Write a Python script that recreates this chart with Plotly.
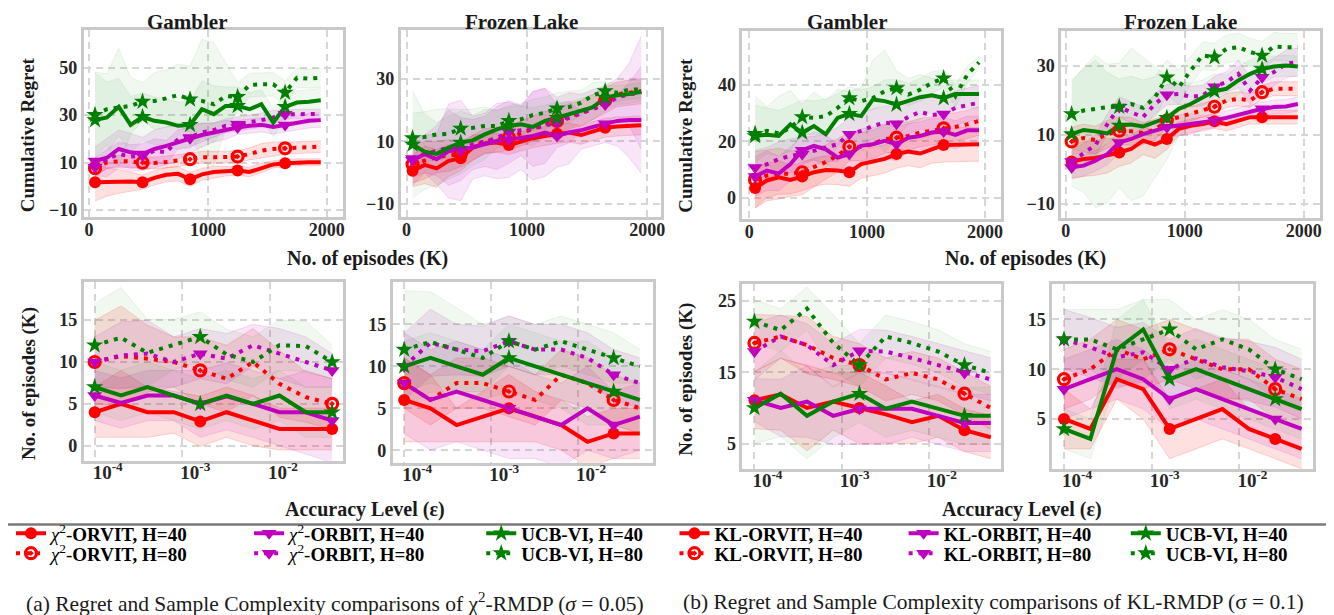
import plotly.graph_objects as go

W, H = 1334, 615
FONT = "Liberation Serif"

# ---------------- data ----------------
episodes = [50, 150, 250, 350, 450, 550, 650, 750, 850, 950,
            1050, 1150, 1250, 1350, 1450, 1550, 1650, 1750, 1850, 1950]
accuracy = [1.0e-4, 2.0e-4, 4.0e-4, 8.0e-4, 1.6e-3, 3.2e-3, 6.4e-3, 1.28e-2, 2.56e-2, 5.12e-2]

# (a) chi^2, Gambler, regret
chi_gam_reg_orvit40 = [1.7, 1.8, 2.0, 2.0, 1.7, 3.5, 4.8, 5.2, 2.9, 5.0, 6.0, 6.3, 6.6, 6.0, 7.8, 9.2, 9.7, 10.1, 10.1, 10.1]
chi_gam_reg_orvit80 = [7.6, 10.0, 10.5, 10.5, 9.9, 9.8, 10.2, 10.8, 11.4, 12.2, 12.2, 12.3, 12.5, 13.6, 15.0, 15.7, 16.0, 16.3, 16.5, 16.7]
chi_gam_reg_orbit40 = [10.6, 12.0, 15.7, 14.3, 13.6, 15.7, 17.0, 18.5, 20.2, 21.6, 22.7, 23.8, 24.8, 25.5, 25.9, 25.0, 25.8, 26.9, 27.6, 27.9]
chi_gam_reg_orbit80 = [8.0, 11.5, 13.6, 12.5, 12.9, 15.0, 14.3, 19.9, 20.6, 22.7, 23.7, 25.5, 26.2, 26.9, 27.9, 29.0, 30.4, 30.4, 30.5, 30.5]
chi_gam_reg_ucb40 = [27.9, 29.0, 33.5, 25.9, 29.3, 27.6, 26.9, 25.5, 25.9, 32.5, 30.4, 33.9, 33.9, 32.5, 34.6, 26.9, 33.5, 35.3, 35.7, 36.3]
chi_gam_reg_ucb80 = [30.1, 32.5, 33.2, 33.9, 35.7, 36.0, 37.1, 38.5, 36.7, 36.0, 34.6, 38.1, 37.7, 42.7, 43.0, 43.0, 39.5, 45.8, 45.4, 45.8]
chi_gam_reg_orvit40_err = [8, 6, 5, 4, 3, 3, 3, 3, 3, 2.5, 2.5, 2, 2, 2, 2, 1.5, 1.5, 1.5, 1.5, 1.5]
chi_gam_reg_orvit80_err = [3, 2.5, 2.5, 2.5, 2.5, 2.5, 2.5, 2.5, 2.5, 2.5, 2.5, 2.5, 2.5, 2.5, 3, 3, 2.5, 2.5, 2.5, 2.5]
chi_gam_reg_orbit40_err = [6, 8, 8, 8, 7, 8, 8, 7, 6, 5, 4, 4, 3, 3, 3, 3, 3, 3, 3, 3]
chi_gam_reg_orbit80_err = [4, 4, 5, 5, 5, 5, 5, 4, 4, 4, 3, 3, 3, 3, 3, 3, 2, 2, 2, 2]
chi_gam_reg_ucb40_err = [20, 15, 12, 12, 10, 10, 10, 10, 10, 12, 12, 8, 8, 7, 6, 6, 5, 5, 5, 5]
chi_gam_reg_ucb80_err = [18, 15, 25, 12, 8, 12, 12, 13, 14, 26, 26, 14, 6, 5, 5, 5, 5, 4, 4, 4]

# (a) chi^2, Frozen Lake, regret
chi_fl_reg_orvit40 = [0.6, 2.5, 1.4, 3.8, 4.6, 8.0, 9.3, 9.6, 8.8, 10.0, 11.0, 11.7, 12.4, 12.8, 12.0, 13.3, 14.3, 14.7, 14.9, 15.1]
chi_fl_reg_orvit80 = [2.7, 4.0, 5.0, 5.5, 5.9, 8.0, 10.0, 10.5, 11.2, 12.5, 14.0, 15.5, 16.5, 18.0, 19.0, 21.0, 23.0, 25.0, 25.5, 26.0]
chi_fl_reg_orbit40 = [4.0, 5.9, 4.3, 6.9, 7.1, 8.0, 9.0, 10.1, 10.5, 11.0, 11.7, 12.8, 11.7, 12.8, 13.5, 14.6, 15.6, 16.5, 16.8, 16.8]
chi_fl_reg_orbit80 = [4.5, 6.0, 7.0, 8.0, 7.5, 9.0, 10.0, 11.0, 13.0, 13.5, 14.0, 15.0, 16.0, 17.5, 19.0, 20.5, 21.7, 24.0, 25.0, 25.5]
chi_fl_reg_ucb40 = [9.0, 6.7, 6.0, 8.0, 9.6, 10.3, 12.2, 13.8, 14.9, 15.4, 14.6, 16.5, 17.5, 18.6, 19.6, 20.9, 23.9, 24.7, 25.1, 25.8]
chi_fl_reg_ucb80 = [11.0, 11.4, 12.2, 12.4, 14.1, 14.3, 14.9, 14.9, 16.5, 17.0, 18.4, 19.1, 20.5, 20.9, 22.3, 24.7, 26.0, 25.5, 26.5, 26.5]
chi_fl_reg_orvit40_err = [5, 6, 6, 5, 4, 4, 3, 3, 3, 3, 3, 3, 3, 3, 3, 3, 3, 3, 3, 3]
chi_fl_reg_orvit80_err = [6, 6, 5, 5, 4, 4, 4, 4, 4, 4, 4, 4, 4, 4, 4, 4, 4, 4, 4, 4]
chi_fl_reg_orbit40_err = [8, 6, 8, 15, 16, 10, 10, 12, 12, 10, 14, 14, 10, 10, 6, 6, 6, 8, 12, 17]
chi_fl_reg_orbit80_err = [6, 6, 8, 12, 10, 8, 8, 10, 10, 8, 12, 12, 8, 8, 6, 6, 6, 6, 10, 18]
chi_fl_reg_ucb40_err = [17, 12, 10, 10, 10, 8, 8, 6, 6, 6, 6, 5, 5, 4, 4, 4, 4, 3, 3, 3]
chi_fl_reg_ucb80_err = [8, 8, 8, 8, 6, 6, 6, 5, 5, 5, 5, 5, 5, 5, 4, 4, 3, 3, 3, 3]

# (b) KL, Gambler, regret
kl_gam_reg_orvit40 = [3.5, 6.2, 7.3, 6.4, 7.6, 9.1, 9.9, 9.7, 9.1, 12.0, 12.9, 13.8, 15.5, 16.4, 15.7, 17.3, 18.7, 18.8, 19.0, 19.0]
kl_gam_reg_orvit80 = [6.4, 8.0, 8.6, 8.6, 9.1, 10.9, 12.7, 15.0, 18.1, 18.1, 19.0, 20.8, 21.3, 21.9, 23.1, 23.7, 24.6, 25.1, 26.0, 27.2]
kl_gam_reg_orbit40 = [7.6, 9.7, 8.6, 12.0, 16.9, 18.4, 17.2, 14.3, 15.5, 18.4, 19.0, 20.2, 19.0, 21.3, 21.9, 23.1, 23.5, 22.3, 23.9, 23.9]
kl_gam_reg_orbit80 = [10.8, 11.9, 13.7, 14.9, 15.5, 16.7, 17.8, 19.0, 22.5, 23.7, 25.4, 26.6, 26.2, 28.6, 30.4, 29.3, 29.7, 31.8, 32.8, 33.6]
kl_gam_reg_ucb40 = [21.9, 22.3, 21.9, 26.0, 23.1, 25.4, 22.5, 28.3, 29.7, 28.9, 34.8, 34.2, 33.0, 34.2, 35.6, 36.3, 35.3, 36.7, 36.7, 36.7]
kl_gam_reg_ucb80 = [22.7, 23.7, 22.9, 24.7, 28.6, 28.3, 28.9, 31.8, 35.3, 34.2, 35.3, 37.7, 38.8, 36.5, 38.2, 40.6, 42.3, 36.0, 43.5, 47.9]
kl_gam_reg_orvit40_err = [7, 6, 6, 5, 5, 5, 5, 5, 5, 5, 5, 5, 5, 5, 5, 5, 6, 6, 6, 6]
kl_gam_reg_orvit80_err = [10, 9, 9, 8, 8, 7, 6, 6, 5, 5, 5, 5, 5, 5, 5, 5, 5, 5, 5, 5]
kl_gam_reg_orbit40_err = [7, 7, 6, 6, 5, 5, 5, 5, 6, 6, 6, 6, 6, 5, 5, 5, 5, 5, 5, 5]
kl_gam_reg_orbit80_err = [6, 6, 6, 6, 6, 5, 5, 6, 6, 6, 6, 6, 6, 6, 6, 6, 6, 6, 6, 6]
kl_gam_reg_ucb40_err = [14, 10, 14, 12, 10, 12, 12, 10, 8, 10, 14, 18, 12, 8, 8, 6, 6, 5, 5, 5]
kl_gam_reg_ucb80_err = [10, 8, 8, 8, 6, 6, 6, 5, 4, 4, 4, 4, 3, 4, 4, 4, 3, 4, 3, 2]

# (b) KL, Frozen Lake, regret
kl_fl_reg_orvit40 = [2.3, 3.0, 3.3, 4.0, 4.9, 5.9, 8.3, 7.2, 8.8, 11.7, 12.6, 13.1, 13.9, 13.1, 14.1, 15.1, 15.1, 15.1, 15.1, 15.1]
kl_fl_reg_orvit80 = [8.1, 9.1, 8.5, 10.2, 11.2, 11.0, 10.5, 11.5, 14.1, 15.1, 16.0, 17.0, 18.1, 19.9, 20.4, 19.9, 22.3, 23.3, 23.3, 23.3]
kl_fl_reg_orbit40 = [0.6, 1.1, 2.5, 4.4, 7.8, 8.8, 10.2, 11.2, 12.2, 12.7, 13.1, 13.6, 14.1, 14.9, 15.8, 16.8, 17.5, 18.0, 18.2, 18.9]
kl_fl_reg_orbit80 = [2.3, 4.6, 7.0, 13.1, 18.0, 16.5, 15.1, 18.9, 21.6, 21.8, 21.0, 21.3, 23.9, 25.2, 27.6, 22.8, 26.6, 28.1, 30.5, 31.0]
kl_fl_reg_ucb40 = [10.2, 11.4, 11.0, 10.4, 12.7, 13.0, 12.4, 13.6, 14.9, 17.5, 18.9, 20.8, 22.6, 23.3, 25.7, 27.6, 29.0, 29.7, 30.0, 29.7]
kl_fl_reg_ucb80 = [16.0, 17.0, 17.5, 18.0, 18.1, 18.9, 17.8, 20.8, 26.6, 23.7, 28.6, 32.9, 32.4, 34.8, 35.3, 33.9, 32.9, 35.5, 35.3, 35.3]
kl_fl_reg_orvit40_err = [5, 5, 5, 5, 4, 4, 4, 4, 3, 2, 2, 2, 2, 2, 2, 2, 2, 2, 2, 2]
kl_fl_reg_orvit80_err = [4, 4, 4, 4, 4, 4, 3, 3, 2, 2, 2, 2, 2, 2, 2, 2, 2, 2, 2, 2]
kl_fl_reg_orbit40_err = [3, 3, 3, 3, 3, 3, 3, 3, 3, 3, 3, 2, 2, 2, 2, 2, 2, 2, 2, 2]
kl_fl_reg_orbit80_err = [3, 3, 3, 3, 3, 3, 3, 3, 3, 3, 3, 3, 3, 3, 4, 4, 4, 4, 4, 4]
kl_fl_reg_ucb40_err = [15, 18, 22, 20, 18, 22, 20, 16, 12, 8, 6, 5, 5, 4, 4, 4, 4, 3, 3, 3]
kl_fl_reg_ucb80_err = [10, 12, 14, 10, 8, 8, 8, 6, 5, 5, 4, 4, 4, 4, 4, 4, 4, 4, 4, 4]

# (a) chi^2, Gambler, sample complexity
chi_gam_sc_orvit40 = [4.0, 5.0, 4.0, 4.0, 2.9, 4.0, 3.0, 2.0, 2.0, 2.0]
chi_gam_sc_orvit80 = [10.0, 10.7, 10.4, 10.0, 9.0, 8.0, 10.0, 7.4, 5.8, 5.0]
chi_gam_sc_orbit40 = [6.0, 5.1, 6.0, 6.0, 5.0, 5.9, 5.0, 4.0, 4.0, 3.0]
chi_gam_sc_orbit80 = [10.0, 10.8, 11.0, 10.0, 11.0, 10.4, 12.0, 11.0, 10.0, 9.0]
chi_gam_sc_ucb40 = [7.0, 6.0, 7.0, 6.0, 5.0, 6.0, 5.0, 6.0, 4.0, 4.0]
chi_gam_sc_ucb80 = [12.0, 12.9, 11.1, 12.1, 13.0, 10.9, 10.0, 12.0, 11.9, 10.0]
chi_gam_sc_orvit40_err = [3, 4, 3, 2.5, 3, 3, 3, 2.5, 2.5, 2.5]
chi_gam_sc_orvit80_err = [5, 6, 4, 3, 4, 4, 4, 4, 3, 3]
chi_gam_sc_orbit40_err = [3, 3, 3, 3, 4, 4, 4, 4, 5, 5]
chi_gam_sc_orbit80_err = [3, 4, 4, 3, 3, 3, 2.5, 3, 3, 2]
chi_gam_sc_ucb40_err = [3, 3, 3, 3, 3, 3, 3, 3, 3, 3]
chi_gam_sc_ucb80_err = [5, 6, 4, 3, 3, 3, 3, 3, 3, 2]

# (a) chi^2, Frozen Lake, sample complexity
chi_fl_sc_orvit40 = [6.0, 5.0, 3.0, 4.0, 5.0, 4.0, 3.0, 1.0, 2.0, 2.0]
chi_fl_sc_orvit80 = [8.0, 6.0, 8.0, 8.0, 7.0, 6.0, 9.0, 8.0, 6.0, 5.0]
chi_fl_sc_orbit40 = [8.0, 6.0, 7.0, 6.0, 5.0, 4.0, 3.0, 5.0, 3.0, 4.0]
chi_fl_sc_orbit80 = [10.0, 12.8, 12.0, 11.8, 13.0, 12.0, 12.0, 11.0, 9.0, 8.0]
chi_fl_sc_ucb40 = [10.0, 11.0, 10.0, 9.0, 11.0, 10.0, 9.0, 8.0, 7.0, 6.0]
chi_fl_sc_ucb80 = [12.0, 12.9, 12.0, 11.0, 13.0, 12.0, 13.0, 12.0, 11.0, 10.0]
chi_fl_sc_orvit40_err = [5, 4, 2, 3, 4, 3, 3, 3, 3, 3]
chi_fl_sc_orvit80_err = [3, 3, 3, 3, 3, 3, 3, 3, 3, 3]
chi_fl_sc_orbit40_err = [6, 6, 6, 6, 6, 5, 5, 5, 4, 4]
chi_fl_sc_orbit80_err = [4, 4, 3, 3, 3, 3, 3, 3, 3, 3]
chi_fl_sc_ucb40_err = [3, 3, 3, 3, 4, 4, 4, 5, 4, 4]
chi_fl_sc_ucb80_err = [7, 6, 5, 4, 3, 3, 3, 3, 3, 2]

# (b) KL, Gambler, sample complexity
kl_gam_sc_orvit40 = [11.1, 11.9, 10.0, 10.9, 10.0, 9.1, 8.0, 8.9, 6.9, 5.9]
kl_gam_sc_orvit80 = [19.1, 20.0, 18.8, 17.0, 16.0, 14.0, 14.9, 14.0, 12.0, 10.0]
kl_gam_sc_orbit40 = [11.1, 10.0, 10.9, 8.9, 9.9, 9.9, 9.9, 8.9, 7.9, 7.9]
kl_gam_sc_orbit80 = [17.9, 20.0, 18.8, 16.0, 18.0, 17.9, 17.0, 16.0, 14.9, 14.0]
kl_gam_sc_ucb40 = [10.0, 12.0, 8.9, 10.9, 12.0, 9.9, 10.9, 9.9, 8.9, 8.9]
kl_gam_sc_ucb80 = [22.1, 20.9, 23.9, 19.1, 16.0, 20.0, 19.1, 17.9, 16.0, 14.9]
kl_gam_sc_orvit40_err = [4, 5, 6, 4, 5, 4, 3, 3, 3, 3]
kl_gam_sc_orvit80_err = [4, 3, 4, 3, 3, 3, 3, 3, 3, 3]
kl_gam_sc_orbit40_err = [3, 4, 5, 4, 5, 5, 4, 4, 4, 4]
kl_gam_sc_orbit80_err = [4, 3, 3, 3, 3, 3, 3, 3, 3, 3]
kl_gam_sc_ucb40_err = [5, 6, 6, 5, 4, 4, 4, 4, 4, 4]
kl_gam_sc_ucb80_err = [3, 3, 3, 4, 3, 3, 3, 3, 3, 3]

# (b) KL, Frozen Lake, sample complexity
kl_fl_sc_orvit40 = [5.0, 4.0, 9.0, 8.0, 4.0, 5.0, 6.0, 4.0, 3.0, 2.0]
kl_fl_sc_orvit80 = [9.0, 10.0, 12.0, 11.0, 12.0, 11.0, 10.0, 10.0, 8.0, 7.0]
kl_fl_sc_orbit40 = [8.0, 9.0, 10.0, 9.0, 7.0, 8.0, 7.0, 6.0, 5.0, 4.0]
kl_fl_sc_orbit80 = [13.0, 12.2, 11.2, 11.7, 10.0, 11.1, 10.2, 9.8, 9.2, 8.0]
kl_fl_sc_ucb40 = [4.0, 3.0, 12.0, 14.0, 9.0, 10.0, 9.0, 8.0, 7.0, 6.0]
kl_fl_sc_ucb80 = [13.0, 13.0, 12.0, 13.0, 14.0, 12.0, 13.0, 12.0, 10.0, 9.0]
kl_fl_sc_orvit40_err = [3, 2, 2, 3, 3, 3, 3, 2, 2, 2]
kl_fl_sc_orvit80_err = [3, 3, 3, 3, 3, 3, 3, 3, 3, 3]
kl_fl_sc_orbit40_err = [3, 3, 3, 3, 3, 3, 3, 3, 3, 3]
kl_fl_sc_orbit80_err = [3, 3, 3, 3, 3, 3, 3, 3, 3, 3]
kl_fl_sc_ucb40_err = [2, 2, 3, 3, 3, 3, 3, 3, 3, 3]
kl_fl_sc_ucb80_err = [3, 3, 4, 4, 3, 3, 3, 3, 3, 3]

chi_names = ["<i>χ</i><sup>2</sup>-<b>ORVIT, H=40</b>", "<i>χ</i><sup>2</sup>-<b>ORVIT, H=80</b>",
             "<i>χ</i><sup>2</sup>-<b>ORBIT, H=40</b>", "<i>χ</i><sup>2</sup>-<b>ORBIT, H=80</b>",
             "<b>UCB-VI, H=40</b>", "<b>UCB-VI, H=80</b>"]
kl_names = ["<b>KL-ORVIT, H=40</b>", "<b>KL-ORVIT, H=80</b>",
            "<b>KL-ORBIT, H=40</b>", "<b>KL-ORBIT, H=80</b>",
            "<b>UCB-VI, H=40</b>", "<b>UCB-VI, H=80</b>"]

# ---------------- styles ----------------
RED, MAG, GRN = (255, 0, 0), (191, 0, 191), (0, 128, 0)
DOT = "4px,6px"
styles = [
    dict(c=RED, dash="solid", sym="circle", open=False, fa=0.12),
    dict(c=RED, dash=DOT, sym="circle-open-dot", open=True, fa=0.12),
    dict(c=MAG, dash="solid", sym="triangle-down", open=False, fa=0.10),
    dict(c=MAG, dash=DOT, sym="triangle-down", open=False, fa=0.10),
    dict(c=GRN, dash="solid", sym="star", open=False, fa=0.06),
    dict(c=GRN, dash=DOT, sym="star", open=False, fa=0.06),
]


def rgba(c, a):
    return f"rgba({c[0]},{c[1]},{c[2]},{a})"


def marker_for(st):
    if st["open"]:
        return dict(symbol=st["sym"], size=11, color=rgba(st["c"], 1),
                    line=dict(color=rgba(st["c"], 1), width=3.2))
    size = 13 if st["sym"] != "circle" else 12
    return dict(symbol=st["sym"], size=size, color=rgba(st["c"], 1), line=dict(width=0))


def px_dom(a, b, total):
    return [a / total, b / total]


def py_dom(top, bot):
    return [1 - bot / H, 1 - top / H]


TOP_MARKS = [0, 4, 8, 12, 16]
panels = [
    dict(x=episodes, means=[chi_gam_reg_orvit40, chi_gam_reg_orvit80, chi_gam_reg_orbit40, chi_gam_reg_orbit80, chi_gam_reg_ucb40, chi_gam_reg_ucb80],
         errs=[chi_gam_reg_orvit40_err, chi_gam_reg_orvit80_err, chi_gam_reg_orbit40_err, chi_gam_reg_orbit80_err, chi_gam_reg_ucb40_err, chi_gam_reg_ucb80_err],
         log=False, xr=[-45, 2135], yr=[-13, 66], yt=[-10, 10, 30, 50], box=(76, 336, 22, 210), marks=TOP_MARKS),
    dict(x=episodes, means=[chi_fl_reg_orvit40, chi_fl_reg_orvit80, chi_fl_reg_orbit40, chi_fl_reg_orbit80, chi_fl_reg_ucb40, chi_fl_reg_ucb80],
         errs=[chi_fl_reg_orvit40_err, chi_fl_reg_orvit80_err, chi_fl_reg_orbit40_err, chi_fl_reg_orbit80_err, chi_fl_reg_ucb40_err, chi_fl_reg_ucb80_err],
         log=False, xr=[-50, 2110], yr=[-14.1, 45.5], yt=[-10, 10, 30], box=(394, 655, 22, 210), marks=TOP_MARKS),
    dict(x=episodes, means=[kl_gam_reg_orvit40, kl_gam_reg_orvit80, kl_gam_reg_orbit40, kl_gam_reg_orbit80, kl_gam_reg_ucb40, kl_gam_reg_ucb80],
         errs=[kl_gam_reg_orvit40_err, kl_gam_reg_orvit80_err, kl_gam_reg_orbit40_err, kl_gam_reg_orbit80_err, kl_gam_reg_ucb40_err, kl_gam_reg_ucb80_err],
         log=False, xr=[-59, 2139], yr=[-7.4, 59], yt=[0, 20, 40], box=(737, 997, 23, 212), marks=TOP_MARKS),
    dict(x=episodes, means=[kl_fl_reg_orvit40, kl_fl_reg_orvit80, kl_fl_reg_orbit40, kl_fl_reg_orbit80, kl_fl_reg_ucb40, kl_fl_reg_ucb80],
         errs=[kl_fl_reg_orvit40_err, kl_fl_reg_orvit80_err, kl_fl_reg_orbit40_err, kl_fl_reg_orbit80_err, kl_fl_reg_ucb40_err, kl_fl_reg_ucb80_err],
         log=False, xr=[-39, 2137], yr=[-14, 40], yt=[-10, 10, 30], box=(1057, 1317, 23, 211), marks=TOP_MARKS),
    dict(x=accuracy, means=[chi_gam_sc_orvit40, chi_gam_sc_orvit80, chi_gam_sc_orbit40, chi_gam_sc_orbit80, chi_gam_sc_ucb40, chi_gam_sc_ucb80],
         errs=[chi_gam_sc_orvit40_err, chi_gam_sc_orvit80_err, chi_gam_sc_orbit40_err, chi_gam_sc_orbit80_err, chi_gam_sc_ucb40_err, chi_gam_sc_ucb80_err],
         log=True, xr=[-4.125, -1.17], yr=[-1.8, 19.6], yt=[0, 5, 10, 15], box=(76, 336, 275, 455), marks=[0, 4, 9]),
    dict(x=accuracy, means=[chi_fl_sc_orvit40, chi_fl_sc_orvit80, chi_fl_sc_orbit40, chi_fl_sc_orbit80, chi_fl_sc_ucb40, chi_fl_sc_ucb80],
         errs=[chi_fl_sc_orvit40_err, chi_fl_sc_orvit80_err, chi_fl_sc_orbit40_err, chi_fl_sc_orbit80_err, chi_fl_sc_ucb40_err, chi_fl_sc_ucb80_err],
         log=True, xr=[-4.134, -1.144], yr=[-1.5, 20.1], yt=[0, 5, 10, 15], box=(386, 647, 275, 457), marks=[0, 4, 8]),
    dict(x=accuracy, means=[kl_gam_sc_orvit40, kl_gam_sc_orvit80, kl_gam_sc_orbit40, kl_gam_sc_orbit80, kl_gam_sc_ucb40, kl_gam_sc_ucb80],
         errs=[kl_gam_sc_orvit40_err, kl_gam_sc_orvit80_err, kl_gam_sc_orbit40_err, kl_gam_sc_orbit80_err, kl_gam_sc_ucb40_err, kl_gam_sc_ucb80_err],
         log=True, xr=[-4.14, -1.17], yr=[1.5, 27.4], yt=[5, 15, 25], box=(737, 997, 277, 463), marks=[0, 4, 8]),
    dict(x=accuracy, means=[kl_fl_sc_orvit40, kl_fl_sc_orvit80, kl_fl_sc_orbit40, kl_fl_sc_orbit80, kl_fl_sc_ucb40, kl_fl_sc_ucb80],
         errs=[kl_fl_sc_orvit40_err, kl_fl_sc_orvit80_err, kl_fl_sc_orbit40_err, kl_fl_sc_orbit80_err, kl_fl_sc_ucb40_err, kl_fl_sc_ucb80_err],
         log=True, xr=[-4.136, -1.16], yr=[0, 18.6], yt=[5, 10, 15], box=(1048, 1310, 277, 463), marks=[0, 4, 8]),
]

fig = go.Figure()
layout = dict(width=W, height=H, autosize=False, margin=dict(l=0, r=0, t=0, b=0),
              paper_bgcolor="white", plot_bgcolor="white", showlegend=True)

FRAME = "#c9c9c9"
GRID = "#d6d6d6"
TICKFONT = dict(family=FONT, size=18, color="#262626", weight="bold")
LOGTICKFONT = dict(family=FONT, size=19, color="#262626", weight="bold")

for k, p in enumerate(panels):
    n = "" if k == 0 else str(k + 1)
    xa, ya = "x" + n, "y" + n
    l, r, t, b = p["box"]
    xax = dict(domain=px_dom(l, r, W), range=p["xr"], anchor=ya, showline=True, mirror=True,
               linecolor=FRAME, linewidth=2.5, showgrid=True, gridcolor=GRID, gridwidth=1.5,
               griddash="7px,5px", zeroline=False, ticks="", tickfont=TICKFONT, fixedrange=True)
    if p["log"]:
        xax.update(type="log", tickvals=[1e-4, 1e-3, 1e-2],
                   ticktext=["10<sup>-4</sup>", "10<sup>-3</sup>", "10<sup>-2</sup>"],
                   ticklabelshift=13, ticklabelstandoff=-7, tickfont=LOGTICKFONT)
    else:
        xax.update(tickvals=[0, 1000, 2000], ticktext=["0", "1000", "2000"],
                   ticklabelstandoff=-5)
    yax = dict(domain=py_dom(t, b), range=p["yr"], anchor=xa, showline=True, mirror=True,
               linecolor=FRAME, linewidth=2.5, showgrid=True, gridcolor=GRID, gridwidth=1.5,
               griddash="7px,5px", zeroline=False, ticks="", tickfont=TICKFONT,
               tickvals=p["yt"], ticktext=[("−" + str(-v)) if v < 0 else str(v) for v in p["yt"]],
               fixedrange=True)
    layout["xaxis" + n] = xax
    layout["yaxis" + n] = yax

    xs = p["x"]
    # bands
    for s, st in enumerate(styles):
        m, e = p["means"][s], p["errs"][s]
        lo = [mv - ev for mv, ev in zip(m, e)]
        hi = [mv + ev for mv, ev in zip(m, e)]
        fig.add_trace(go.Scatter(x=xs, y=lo, xaxis=xa, yaxis=ya, mode="lines",
                                 line=dict(color=rgba(st["c"], st["fa"] * 1.3), width=1),
                                 showlegend=False, hoverinfo="skip"))
        fig.add_trace(go.Scatter(x=xs, y=hi, xaxis=xa, yaxis=ya, mode="lines", fill="tonexty",
                                 fillcolor=rgba(st["c"], st["fa"]),
                                 line=dict(color=rgba(st["c"], st["fa"] * 1.3), width=1),
                                 showlegend=False, hoverinfo="skip"))
    # lines
    for s, st in enumerate(styles):
        fig.add_trace(go.Scatter(x=xs, y=p["means"][s], xaxis=xa, yaxis=ya, mode="lines",
                                 line=dict(color=rgba(st["c"], 1), width=4, dash=st["dash"]),
                                 showlegend=False))
    # markers
    for s, st in enumerate(styles):
        idx = p["marks"]
        fig.add_trace(go.Scatter(x=[xs[i] for i in idx], y=[p["means"][s][i] for i in idx],
                                 xaxis=xa, yaxis=ya, mode="markers", marker=marker_for(st),
                                 showlegend=False))

# ---------------- legends (one entry each) ----------------
LEG_FONT = dict(family=FONT, size=19, color="black")
col_text_x = [[45, 284, 517], [711, 941, 1164]]
row_y = [528, 548]
li = 0
for half, names in enumerate([chi_names, kl_names]):
    for s, st in enumerate(styles):
        col, row = s // 2, s % 2
        li += 1
        lname = "legend" if li == 1 else f"legend{li}"
        fig.add_trace(go.Scatter(x=[None], y=[None], xaxis="x", yaxis="y", mode="lines+markers",
                                 name=names[s], legend=lname,
                                 line=dict(color=rgba(st["c"], 1), width=4, dash=st["dash"]),
                                 marker=marker_for(st)))
        layout[lname] = dict(x=(col_text_x[half][col] - 42) / W, y=1 - row_y[row] / H,
                             xanchor="left", yanchor="middle", bgcolor="rgba(0,0,0,0)",
                             borderwidth=0, font=LEG_FONT, itemwidth=30, tracegroupgap=0)

# ---------------- annotations ----------------
ann = []


def add_text(text, x, y, size, bold=True, angle=0):
    ann.append(dict(text=text, x=x / W, y=1 - y / H, xref="paper", yref="paper", showarrow=False,
                    xanchor="center", yanchor="middle", textangle=angle,
                    font=dict(family=FONT, size=size, color="#1a1a1a",
                              weight="bold" if bold else "normal")))


add_text("Gambler", 180, 14, 21)
add_text("Frozen Lake", 515, 14, 21)
add_text("Gambler", 842, 14, 21)
add_text("Frozen Lake", 1177, 14, 21)
add_text("Cumulative Regret", 19, 127, 19, angle=-90)
add_text("Cumulative Regret", 680, 128, 19, angle=-90)
add_text("No. of episodes (K)", 21, 377, 19, angle=-90)
add_text("No. of episodes (K)", 681, 373, 19, angle=-90)
add_text("No. of episodes (K)", 361, 252, 20)
add_text("No. of episodes (K)", 1021, 252, 20)
add_text("Accuracy Level (ε)", 358, 504, 20)
add_text("Accuracy Level (ε)", 1018, 504, 20)
add_text("(a) Regret and Sample Complexity comparisons of χ<sup>2</sup>-RMDP (<i>σ</i> = 0.05)",
         328, 597, 21.5, bold=False)
add_text("(b) Regret and Sample Complexity comparisons of KL-RMDP (σ = 0.1)",
         989, 597, 21.5, bold=False)
layout["annotations"] = ann
layout["shapes"] = [dict(type="line", xref="paper", yref="paper", x0=0, x1=1,
                         y0=1 - 519 / H, y1=1 - 519 / H, line=dict(color="#7a7a7a", width=2.5))]

fig.update_layout(**layout)
fig.write_html("out.html")
